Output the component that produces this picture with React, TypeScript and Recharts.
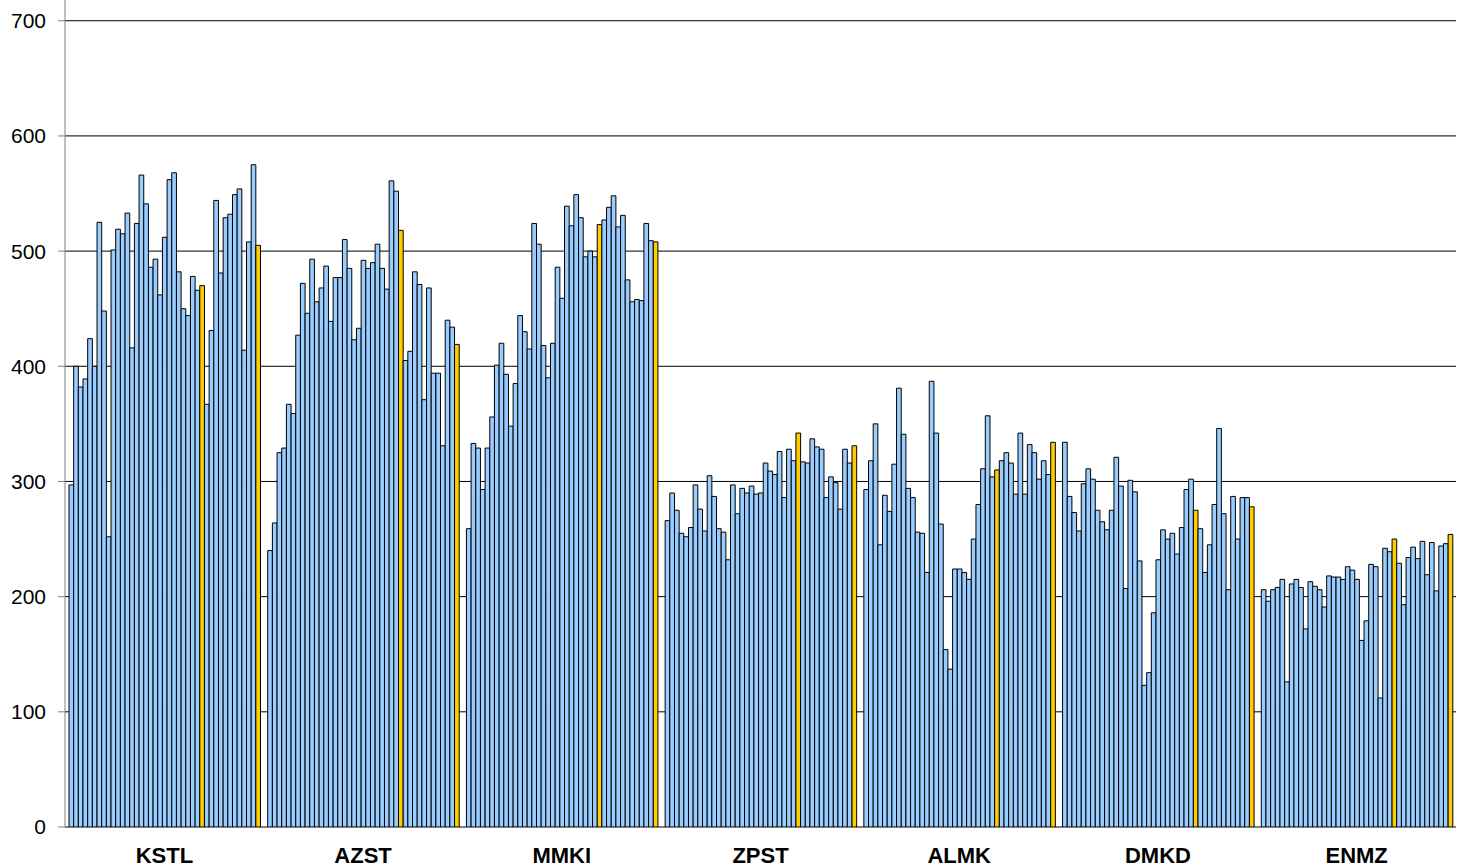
import { Bar, BarChart, CartesianGrid, XAxis, YAxis } from "recharts";

// Seven tickers, 41 readings each (one series per reading position).
const groups = ["KSTL", "AZST", "MMKI", "ZPST", "ALMK", "DMKD", "ENMZ"];

const kstl = [297, 400, 382, 389, 424, 400, 525, 448, 252, 501, 519, 515, 533, 416, 524, 566, 541, 486, 493, 462, 512, 562, 568, 482, 450, 444, 478, 466, 470, 367, 431, 544, 481, 529, 532, 549, 554, 414, 508, 575, 505];
const azst = [240, 264, 325, 329, 367, 359, 427, 472, 446, 493, 456, 468, 487, 439, 477, 477, 510, 485, 423, 433, 492, 485, 490, 506, 485, 467, 561, 552, 518, 405, 413, 482, 471, 371, 468, 394, 394, 331, 440, 434, 419];
const mmki = [259, 333, 329, 293, 329, 356, 401, 420, 393, 348, 385, 444, 430, 415, 524, 506, 418, 390, 420, 486, 459, 539, 522, 549, 529, 495, 500, 495, 523, 527, 538, 548, 521, 531, 475, 456, 458, 457, 524, 509, 508];
const zpst = [266, 290, 275, 255, 252, 260, 297, 276, 257, 305, 287, 259, 256, 232, 297, 272, 294, 290, 296, 289, 290, 316, 309, 306, 326, 286, 328, 318, 342, 317, 316, 337, 330, 328, 286, 304, 299, 276, 328, 316, 331];
const almk = [293, 318, 350, 245, 288, 274, 315, 381, 341, 294, 286, 256, 255, 221, 387, 342, 263, 154, 137, 224, 224, 221, 215, 250, 280, 311, 357, 304, 310, 318, 325, 316, 289, 342, 289, 332, 325, 302, 318, 306, 334];
const dmkd = [334, 287, 273, 257, 298, 311, 302, 275, 265, 258, 275, 321, 296, 207, 301, 291, 231, 123, 134, 186, 232, 258, 250, 255, 237, 260, 293, 302, 275, 259, 221, 245, 280, 346, 272, 206, 287, 250, 286, 286, 278];
const enmz = [206, 196, 206, 208, 215, 126, 211, 215, 208, 172, 213, 209, 206, 191, 218, 217, 217, 215, 226, 223, 215, 162, 179, 228, 226, 112, 242, 239, 250, 229, 193, 234, 243, 233, 248, 219, 247, 205, 244, 246, 254];

const yTicks = [0, 100, 200, 300, 400, 500, 600, 700];
const edgeTicks = [0, 1, 2, 3, 4, 5, 6, 7];
// positions drawn in gold instead of blue
const highlighted = [28, 40];

const byGroup = [kstl, azst, mmki, zpst, almk, dmkd, enmz];
const seriesKeys = kstl.map((_, i) => `s${i}`);

const rows = groups.map((name, g) => {
  const row: Record<string, string | number> = { name };
  byGroup[g].forEach((v, i) => {
    row[`s${i}`] = v;
  });
  return row;
});

const font = "'Liberation Sans', Arial, sans-serif";

// plot is 1391px wide; leave ~7px between groups, bars touch each other
const plotWidth = 1461 - 65 - 5;
const barSize = (plotWidth / groups.length - 7.2) / seriesKeys.length;

export default function App() {
  return (
    <div style={{ position: "absolute", left: 0, top: 0, background: "#fff" }}>
      <BarChart
        width={1461}
        height={868}
        data={rows}
        margin={{ top: 0, right: 5, bottom: 0, left: 0 }}
        barSize={barSize}
        barGap={0}
      >
        <CartesianGrid xAxisId="cat" vertical={false} horizontalValues={yTicks} stroke="#000" />
        <XAxis
          xAxisId="edge"
          type="number"
          domain={[0, 7]}
          ticks={edgeTicks}
          height={0}
          tickFormatter={() => ""}
          stroke="#808080"
          tickSize={6}
        />
        <XAxis
          xAxisId="cat"
          dataKey="name"
          height={41}
          axisLine={false}
          tickLine={false}
          tickSize={6}
          tickMargin={14}
          interval={0}
          tick={{ fontSize: 22, fontWeight: "bold", fill: "#000", fontFamily: font }}
        />
        <YAxis
          domain={[0, 718]}
          ticks={yTicks}
          width={65}
          stroke="#808080"
          tickSize={7}
          tickMargin={12}
          allowDataOverflow
          tick={{ fontSize: 21, fill: "#000", fontFamily: font }}
        />
        {seriesKeys.map((key, i) => (
          <Bar
            key={key}
            xAxisId="cat"
            dataKey={key}
            fill={highlighted.includes(i) ? "#FFCC00" : "#99CCFF"}
            stroke="#000"
            strokeWidth={1}
            isAnimationActive={false}
          />
        ))}
      </BarChart>
    </div>
  );
}
